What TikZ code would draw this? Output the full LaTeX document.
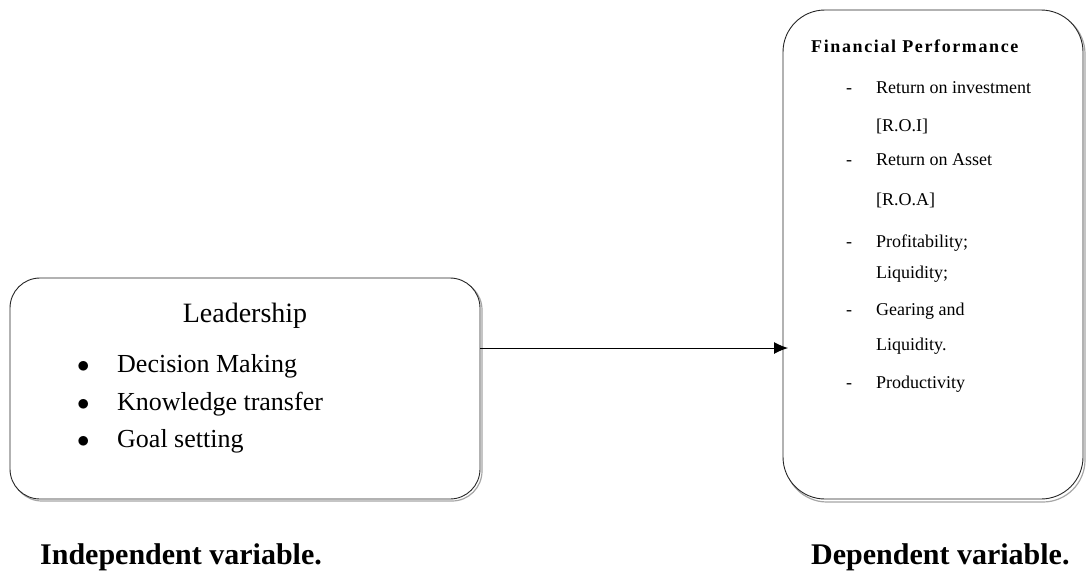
\documentclass[tikz,border=0pt]{standalone}
\usepackage{fontspec}
\setmainfont{Liberation Serif}
\usetikzlibrary{arrows.meta}
\begin{document}
\begin{tikzpicture}[x=1pt,y=-1pt,
  boxline/.style={draw=black!85,line width=0.9pt},
  shadowline/.style={draw=black!35,line width=1.2pt},
  lefttxt/.style={anchor=base west,inner sep=0pt,font=\fontsize{26}{28}\selectfont},
  righttxt/.style={anchor=base west,inner sep=0pt,font=\fontsize{18}{21}\selectfont},
  caption/.style={anchor=base west,inner sep=0pt,font=\bfseries\fontsize{30}{34}\selectfont}]
\useasboundingbox (0,0) rectangle (1086,571);
% left box
\draw[shadowline,rounded corners=30pt] (12,280) rectangle (482,501);
\draw[boxline,fill=white,rounded corners=30pt] (10,278) rectangle (480,499);
\coordinate (lout) at (480,348);
\node[anchor=base,inner sep=0pt,font=\fontsize{28}{32}\selectfont] (lt) at (245,322) {Leadership};
\foreach \yy/\t/\n in {372/Decision Making/a,410/Knowledge transfer/b,447/Goal setting/c}{
  \node[lefttxt,font=\fontsize{30}{30}\selectfont] (b\n) at (77,\yy) {$\bullet$};
  \node[lefttxt] (i\n) at (117,\yy) {\t};
}
% right box
\draw[shadowline,rounded corners=42pt] (785,12) rectangle (1085,502);
\draw[boxline,fill=white,rounded corners=42pt] (783,10) rectangle (1083,499);
\coordinate (rin) at (788,348);
\node[anchor=base west,inner sep=0pt,font=\bfseries\fontsize{18}{20}\selectfont\addfontfeature{LetterSpace=9}] (rt) at (811,52) {Financial Performance};
\foreach \yy/\t/\n in {93/Return on investment/a,165/Return on Asset/b,247/Profitability;/c,315/Gearing and/d,388/Productivity/e}{
  \node[righttxt] (d\n) at (846,\yy) {-};
  \node[righttxt] (r\n) at (876,\yy) {\t};
}
\foreach \yy/\t/\n in {131/{[R.O.I]}/f,205/{[R.O.A]}/g,278/Liquidity;/h,350/Liquidity./i}{
  \node[righttxt] (r\n) at (876,\yy) {\t};
}
% connector
\draw[line width=1pt,-{Latex[length=14pt,width=12pt]}] (lout) -- (rin);
% captions
\node[caption] (c1) at (40,564) {Independent variable.};
\node[caption] (c2) at (811,564) {Dependent variable.};
\end{tikzpicture}
\end{document}
